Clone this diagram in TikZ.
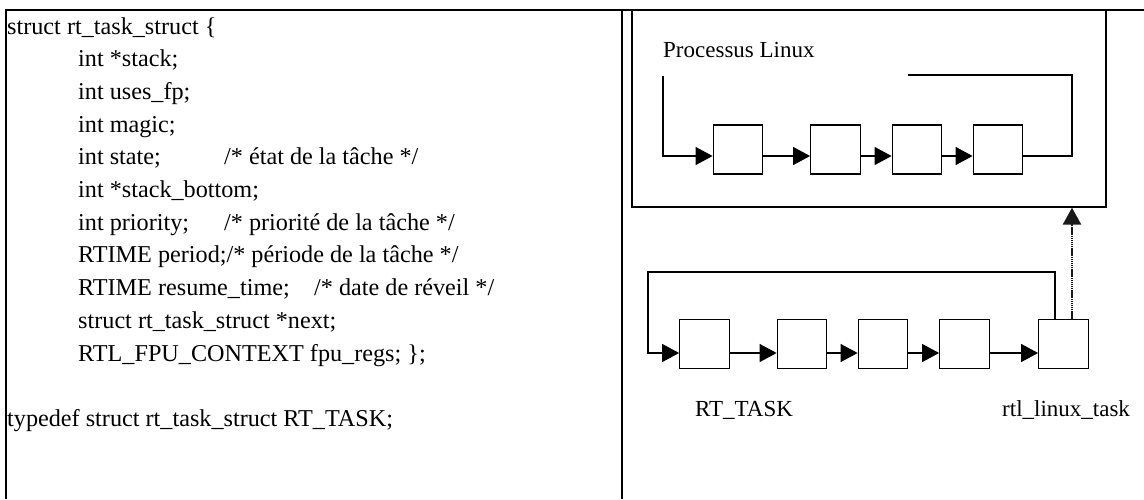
\documentclass[tikz,border=0pt]{standalone}
\usepackage{fontspec}
\setmainfont{Liberation Serif}
\usetikzlibrary{arrows.meta}
\begin{document}
\begin{tikzpicture}[x=1pt,y=-1pt,
  frame/.style={line width=2pt},
  cell/.style={draw, line width=1.3pt, minimum width=49.5pt, minimum height=49pt, inner sep=0pt},
  link/.style={line width=1.3pt},
  arr/.style={link, -{Triangle[length=17pt,width=18pt]}},
  code/.style={anchor=base west, inner sep=0pt, font=\fontsize{24.2}{30}\selectfont},
  lbl/.style={anchor=base west, inner sep=0pt, font=\fontsize{23}{28}\selectfont}]
\useasboundingbox (0,0) rectangle (1144,499);

% table frame
\draw[frame] (6,499) -- (6,10) -- (1144,10);
\draw[frame] (622,10) -- (622,499);

% structure declaration
\def\lsk{32.7}
\def\ltop{34}
\node[code] (c1) at (7,\ltop) {struct rt\_task\_struct \{};
\node[code] (c2) at (78,\ltop+1*\lsk) {int *stack;};
\node[code] (c3) at (78,\ltop+2*\lsk) {int uses\_fp;};
\node[code] (c4) at (78,\ltop+3*\lsk) {int magic;};
\node[code] (c5) at (78,\ltop+4*\lsk) {int state;};
\node[code] (c5c) at (224,\ltop+4*\lsk) {/* état de la tâche */};
\node[code] (c6) at (78,\ltop+5*\lsk) {int *stack\_bottom;};
\node[code] (c7) at (78,\ltop+6*\lsk) {int priority;};
\node[code] (c7c) at (224,\ltop+6*\lsk) {/* priorité de la tâche */};
\node[code] (c8) at (78,\ltop+7*\lsk) {RTIME period;/* période de la tâche */};
\node[code] (c9) at (78,\ltop+8*\lsk) {RTIME resume\_time;};
\node[code] (c9c) at (314,\ltop+8*\lsk) {/* date de réveil */};
\node[code] (c10) at (78,\ltop+9*\lsk) {struct rt\_task\_struct *next;};
\node[code] (c11) at (78,\ltop+10*\lsk) {RTL\_FPU\_CONTEXT fpu\_regs; \};};
\node[code] (c13) at (7,\ltop+12*\lsk) {typedef struct rt\_task\_struct RT\_TASK;};

% Linux process box and its task list
\node[draw, line width=1.3pt, minimum width=474pt, minimum height=197pt, inner sep=0pt] (proc) at (869,108.5) {};
\node[lbl] (plabel) at (663,57) {Processus Linux};

\node[cell] (u1) at (738,149.5) {};
\node[cell] (u2) at (835.5,149.5) {};
\node[cell] (u3) at (917,149.5) {};
\node[cell] (u4) at (998,149.5) {};
\coordinate (uy) at (0,156);
\coordinate (uA) at (663,76);
\coordinate (uC) at (1072,75);
\coordinate (uB) at (908,75);
\draw[arr] (uA) |- (u1.west |- uy);
\draw[arr] (u1.east |- uy) -- (u2.west |- uy);
\draw[arr] (u2.east |- uy) -- (u3.west |- uy);
\draw[arr] (u3.east |- uy) -- (u4.west |- uy);
\draw[link] (u4.east |- uy) -| (uC) -- (uB);

% real-time task list
\node[cell] (l1) at (704.5,344) {};
\node[cell] (l2) at (802,344) {};
\node[cell] (l3) at (883,344) {};
\node[cell] (l4) at (964.5,344) {};
\node[cell] (l5) at (1063.5,344) {};
\coordinate (ly) at (0,353);
\coordinate (lTL) at (648,272);
\coordinate (lTR) at (1055,272);
\draw[arr] (l5.north -| lTR) -- (lTR) -- (lTL) |- (l1.west |- ly);
\draw[arr] (l1.east |- ly) -- (l2.west |- ly);
\draw[arr] (l2.east |- ly) -- (l3.west |- ly);
\draw[arr] (l3.east |- ly) -- (l4.west |- ly);
\draw[arr] (l4.east |- ly) -- (l5.west |- ly);

% link from rtl_linux_task to the Linux process
\coordinate (dx) at (1072,0);
\draw[line width=2.4pt, black!90, dash pattern=on 1.4pt off 0.7pt, -{Triangle[length=17pt,width=18pt]}]
  (l5.north -| dx) -- (proc.south -| dx);

\node[lbl] (t1) at (695,416) {RT\_TASK};
\node[lbl] (t2) at (1002,416) {rtl\_linux\_task};
\end{tikzpicture}
\end{document}
